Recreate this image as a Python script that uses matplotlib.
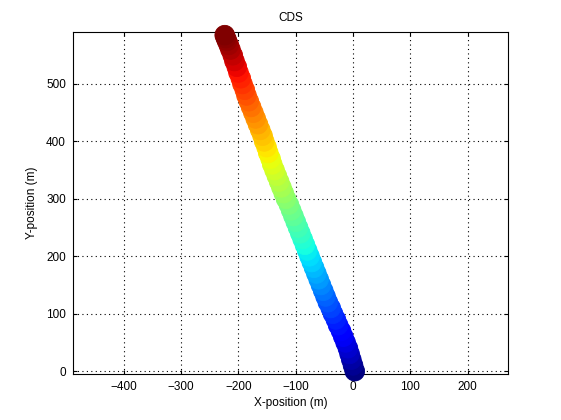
#!/usr/bin/env python3

import matplotlib
matplotlib.use('Agg')
import matplotlib.pyplot as plt

# track centre points (m)
x_pos = [3, 0, -3, -6, -9, -13, -17, -21, -26, -30, -35, -39, -44, -48,
         -52, -56, -60, -64, -68, -72, -76, -80, -84, -88, -92, -96, -100,
         -104, -108, -112, -117, -121, -125, -129, -133, -137, -141, -144,
         -148, -151, -155, -158, -162, -166, -170, -174, -178, -182, -186,
         -189, -193, -196, -200, -203, -207, -210, -214, -217, -220, -222,
         -224]
y_pos = [0, 10, 20, 30, 40, 50, 60, 70, 80, 90, 100, 110, 120, 130, 140,
         150, 160, 170, 180, 190, 200, 210, 220, 230, 240, 250, 260, 270,
         280, 290, 300, 310, 320, 330, 340, 350, 360, 370, 380, 390, 400,
         410, 420, 430, 440, 450, 460, 470, 480, 490, 500, 510, 520, 530,
         540, 550, 560, 568, 575, 580, 585]

x_ticks = [-400, -300, -200, -100, 0, 100, 200]
y_ticks = [0, 100, 200, 300, 400, 500]

plt.rcParams['font.family'] = ['Liberation Sans', 'DejaVu Sans']

fig = plt.figure(figsize=(5.61, 4.2), dpi=100)
ax = fig.add_axes([0.130, 0.1095, 0.775, 0.8136])

ax.scatter(x_pos, y_pos, c=y_pos, cmap='jet', vmin=0, vmax=585,
           s=190, marker='o', linewidths=0, zorder=3, clip_on=False)
ax.scatter(x_pos, y_pos, c=y_pos, cmap='jet', vmin=0, vmax=585,
           s=200, marker='o', facecolors='none', linewidths=0.6,
           zorder=3, clip_on=False)

ax.set_xlim(-489, 270)
ax.set_ylim(-5, 590)
ax.set_xticks(x_ticks)
ax.set_yticks(y_ticks)
ax.grid(True, color='black', linestyle=(0, (1, 3)), linewidth=0.8)
ax.set_axisbelow(True)
ax.tick_params(direction='in', length=3, top=True, right=True,
               labelsize=8.5, pad=5)
for sp in ax.spines.values():
    sp.set_linewidth(0.8)

ax.set_title('CDS', fontsize=8.5, pad=8)
ax.set_xlabel('X-position (m)', fontsize=8.5, labelpad=3)
ax.set_ylabel('Y-position (m)', fontsize=8.5, labelpad=6)

plt.savefig('out.png', dpi=100)
